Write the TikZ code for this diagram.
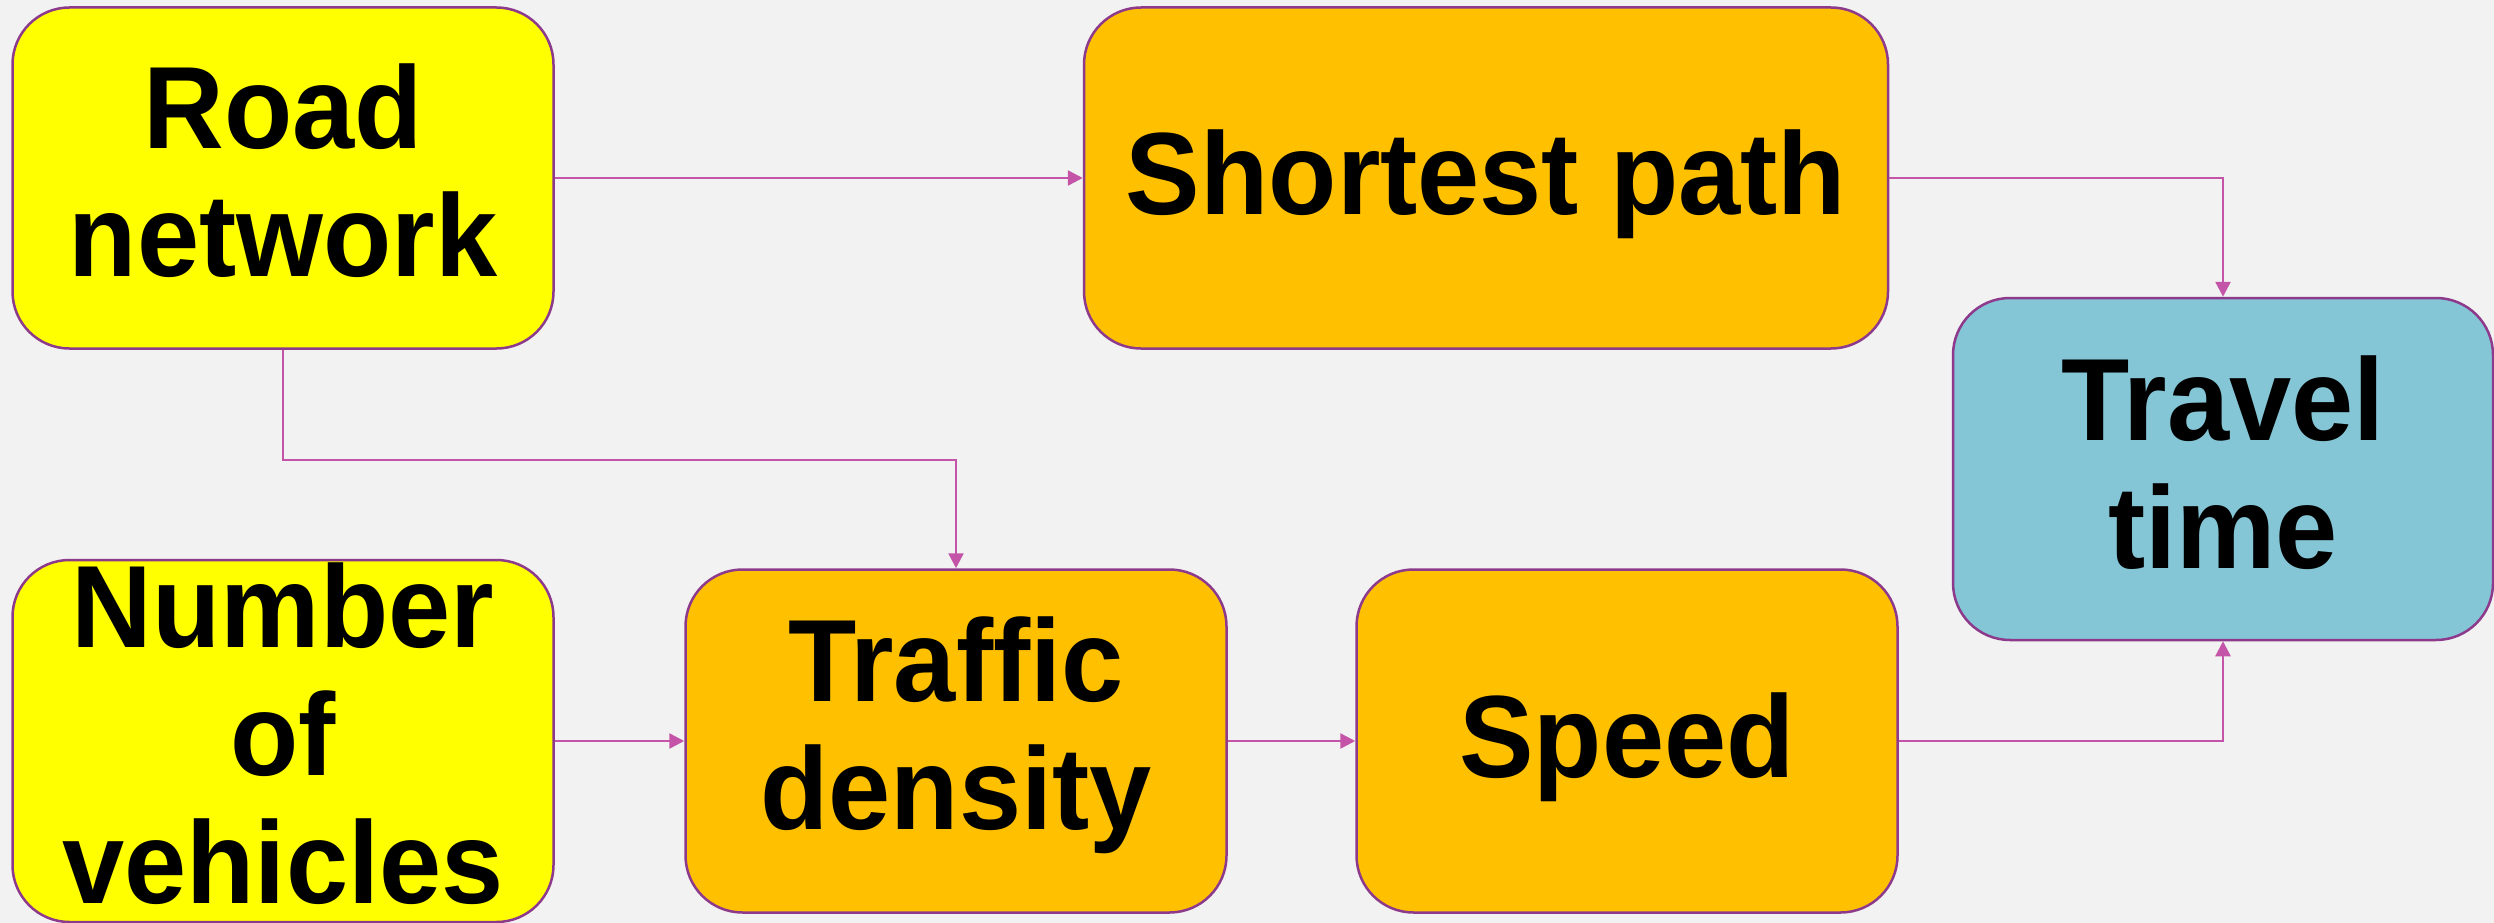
\documentclass[tikz,border=0pt]{standalone}
\usepackage{fontspec}
\setmainfont{Liberation Sans}[FakeStretch=0.955,Ligatures=NoCommon]
\usetikzlibrary{arrows.meta}
\definecolor{bg}{RGB}{241,242,241}
\definecolor{ylw}{RGB}{255,255,0}
\definecolor{org}{RGB}{255,192,0}
\definecolor{blu}{RGB}{132,198,214}
\definecolor{edge}{RGB}{142,58,140}
\definecolor{conn}{RGB}{196,84,168}
\begin{document}
\begin{tikzpicture}[x=1pt,y=-1pt,
  box/.style={draw=edge, line width=2.5pt, rounded corners=57pt, inner sep=0pt},
  txt/.style={inner sep=0pt, align=center, font=\fontsize{117}{128}\selectfont\bfseries},
  link/.style={draw=conn, line width=2.5pt, -{Triangle[length=15pt,width=15pt]}}]
\fill[bg] (0,0) rectangle (2494,923);
\useasboundingbox (0,0) rectangle (2494,923);

\node[box, fill=ylw, minimum width=541pt, minimum height=341pt] (road) at (283,178) {};
\node[box, fill=org, minimum width=804pt, minimum height=341pt] (short) at (1486,178) {};
\node[box, fill=blu, minimum width=540pt, minimum height=342pt] (travel) at (2223,469) {};
\node[box, fill=ylw, minimum width=541pt, minimum height=362pt] (number) at (283,741) {};
\node[box, fill=org, minimum width=541pt, minimum height=343pt] (traffic) at (956,741) {};
\node[box, fill=org, minimum width=541pt, minimum height=343pt] (speed) at (1627,741) {};

\node[txt] (roadT) at ([yshift=7pt]road.center) {Road\\network};
\node[txt] (shortT) at ([yshift=-6pt]short.center) {Shortest path};
\node[txt] (travelT) at ([yshift=6pt]travel.center) {Travel\\time};
\node[txt] (numberT) at ([yshift=7pt]number.center) {Number\\of\\vehicles};
\node[txt] (trafficT) at ([yshift=6pt]traffic.center) {Traffic\\density};
\node[txt] (speedT) at ([yshift=-6pt]speed.center) {Speed};

\coordinate (bend) at (283,460);

\draw[link] (road.east) -- (short.west);
\draw[link] (short.east) -| (travel.north);
\draw[link] (road.south) -- (bend) -| (traffic.north);
\draw[link] (number.east) -- (traffic.west);
\draw[link] (traffic.east) -- (speed.west);
\draw[link] (speed.east) -| (travel.south);
\end{tikzpicture}
\end{document}
